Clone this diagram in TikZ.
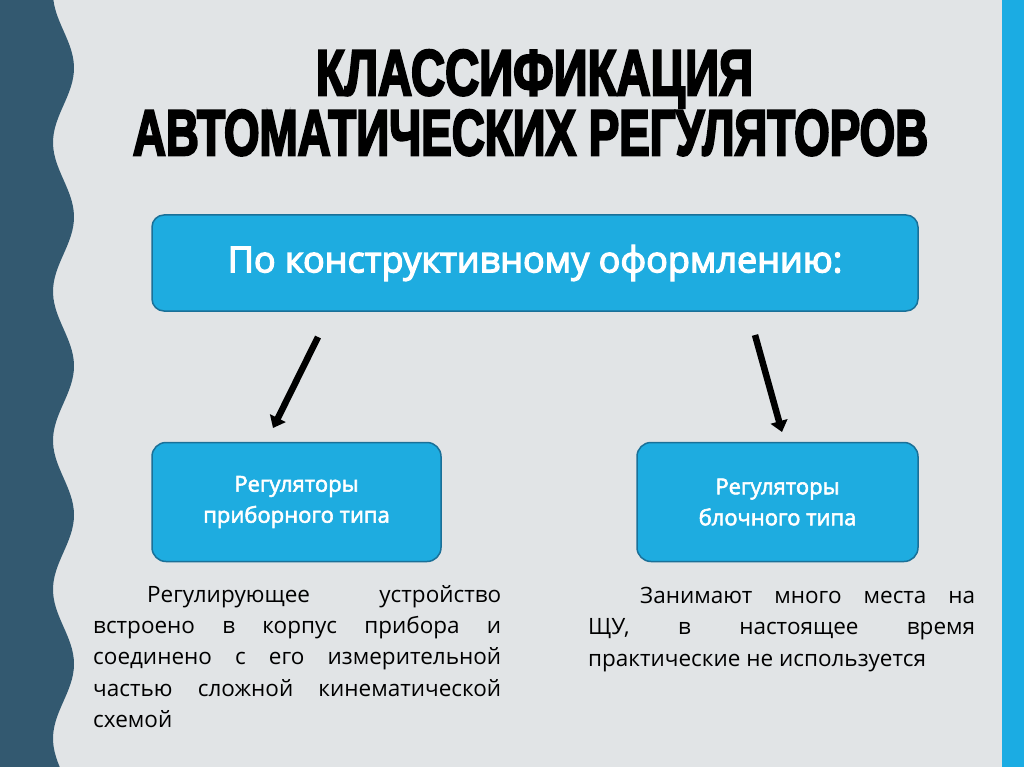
\documentclass[tikz,border=0pt]{standalone}
\usepackage{fontspec}
\usepackage{graphicx}
\setmainfont{Open Sans}
\newfontfamily\headfont[FakeBold=4]{Liberation Sans Bold}
\newfontfamily\semifont[FakeBold=2.5]{Open Sans}
\newfontfamily\mainboxfont[FakeBold=3.5]{Open Sans}
\usetikzlibrary{positioning,arrows.meta}

\definecolor{bggray}{RGB}{225,228,230}
\definecolor{wavecol}{RGB}{51,89,112}
\definecolor{boxblue}{RGB}{30,172,224}
\definecolor{boxedge}{RGB}{26,112,152}
\definecolor{stripe}{RGB}{27,172,227}

\begin{document}
\begin{tikzpicture}[x=1pt,y=-1pt,
	box/.style={draw=boxedge, line width=1.5pt, fill=boxblue, rounded corners=14pt, text=white, align=center},
	para/.style={inner sep=0pt, align=justify, font=\fontsize{22.5}{31.3}\selectfont},
	arr/.style={line width=6.5pt, -{Triangle[length=11pt,width=17pt]}}]
				\useasboundingbox (0,0) rectangle (1024,767);
				% background, wave band and stripe
				\fill[bggray] (0,0) rectangle (1024,767);
				\fill[wavecol] (0,0) -- plot[domain=0:767, samples=150, variable=\t] ({63.5+10.5*cos((\t-68)*2.4161)}, \t) -- (0,767) -- cycle;
				\fill[stripe] (1002,0) rectangle (1024,767);
				
				% title
				\node[inner sep=0pt, anchor=base] (title1) at (534.5,95) {\resizebox{437pt}{45pt}{\headfont КЛАССИФИКАЦИЯ}};
				\node[inner sep=0pt, anchor=base] (title2) at (530.5,155) {\resizebox{795pt}{45pt}{\headfont АВТОМАТИЧЕСКИХ РЕГУЛЯТОРОВ}};
				
				% boxes
				\node[box, minimum width=766pt, minimum height=96pt, rounded corners=12pt, font=\fontsize{36}{40}\mainboxfont] (main) at (535,263) {По конструктивному оформлению:};
				\node[box, minimum width=289pt, minimum height=119pt, font=\fontsize{22}{31}\semifont, below=130pt of main.south west, anchor=north west] (pribor) {Регуляторы\\приборного типа};
				\node[box, minimum width=281pt, minimum height=119pt, font=\fontsize{22}{31}\semifont, below=130pt of main.south east, anchor=north east] (blok) {Регуляторы\\блочного типа};
				
				% arrows
				\coordinate (a1) at (318,337);
				\coordinate (a2) at (273,428);
				\coordinate (b1) at (755,335);
				\coordinate (b2) at (782,432);
				\draw[arr] (a1) -- (a2);
				\draw[arr] (b1) -- (b2);
				
				% descriptions
				\node[para, text width=408pt, anchor=north west] (ptext) at (93,585) {\hspace*{54pt}Регулирующее устройство\linebreak встроено в корпус прибора и\linebreak соединено с его измерительной\linebreak частью сложной кинематической\linebreak схемой};
				\node[para, text width=387pt, anchor=north west] (btext) at (588,587) {\hspace*{52pt}Занимают много места на\linebreak ЩУ, в настоящее время\linebreak практические не используется};
			\end{tikzpicture}
\end{document}
